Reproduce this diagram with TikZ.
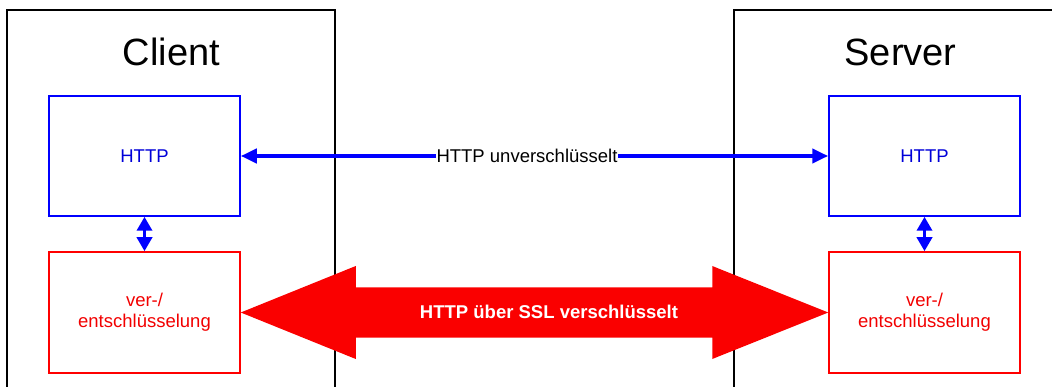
\documentclass[tikz,border=0pt]{standalone}
\usepackage{fontspec}
\setmainfont{Liberation Sans}
\usetikzlibrary{arrows.meta,calc}
\begin{document}
\begin{tikzpicture}[x=1pt,y=-1pt,
  frame/.style={draw=black,line width=1.5pt},
  title/.style={font=\fontsize{38}{44}\selectfont,text=black},
  httpbox/.style={draw=blue,line width=1.5pt,minimum width=191pt,minimum height=120pt,text=blue!85!black,font=\fontsize{18.5}{21}\selectfont,inner sep=0pt},
  cryptbox/.style={draw=red,line width=1.5pt,minimum width=191pt,minimum height=121pt,text=red!95!black,font=\fontsize{18.5}{21}\selectfont,align=center,inner sep=0pt},
  bluelink/.style={blue,line width=4.5pt,{Triangle[length=16pt,width=14pt]}-{Triangle[length=16pt,width=14pt]}},
  vlink/.style={blue,line width=3.5pt,{Triangle[length=14pt,width=15pt]}-{Triangle[length=14pt,width=15pt]}},
  biglabel/.style={text=white,font=\bfseries\fontsize{18.5}{21}\selectfont}
]
\useasboundingbox (0,0) rectangle (1052,387);
% outer frames
\draw[frame] (7,387) -- (7,10) -- (335,10) -- (335,387);
\draw[frame] (734,387) -- (734,10) -- (1052,10);
% titles
\node[title] (ct) at (171.5,52) {Client};
\node[title] (st) at (900.5,52) {Server};
% boxes
\node[httpbox] (ch) at (144.5,156) {HTTP};
\node[httpbox] (sh) at (924.5,156) {HTTP};
\node[cryptbox] (cr) at (144.5,312.5) {ver-/\\entschlüsselung};
\node[cryptbox] (sr) at (924.5,312.5) {ver-/\\entschlüsselung};
% vertical links
\draw[vlink] (ch.south) -- (cr.north);
\draw[vlink] (sh.south) -- (sr.north);
% unencrypted link
\draw[bluelink] (ch.east) -- (sh.west);
\node[fill=white,inner sep=1pt,font=\fontsize{18.5}{21}\selectfont] (ul) at (527,156) {HTTP unverschlüsselt};
% encrypted big arrow
\fill[red!98!black] (cr.east) -- ++(115,-46.5) -- ++(0,21.5)
  -- ($(sr.west)+(-116,-25)$) -- ++(0,-21.5) -- (sr.west)
  -- ++(-116,46.5) -- ++(0,-21.5)
  -- ($(cr.east)+(115,25)$) -- ++(0,21.5) -- cycle;
\node[biglabel] (el) at (549,312) {HTTP über SSL verschlüsselt};
\end{tikzpicture}
\end{document}
